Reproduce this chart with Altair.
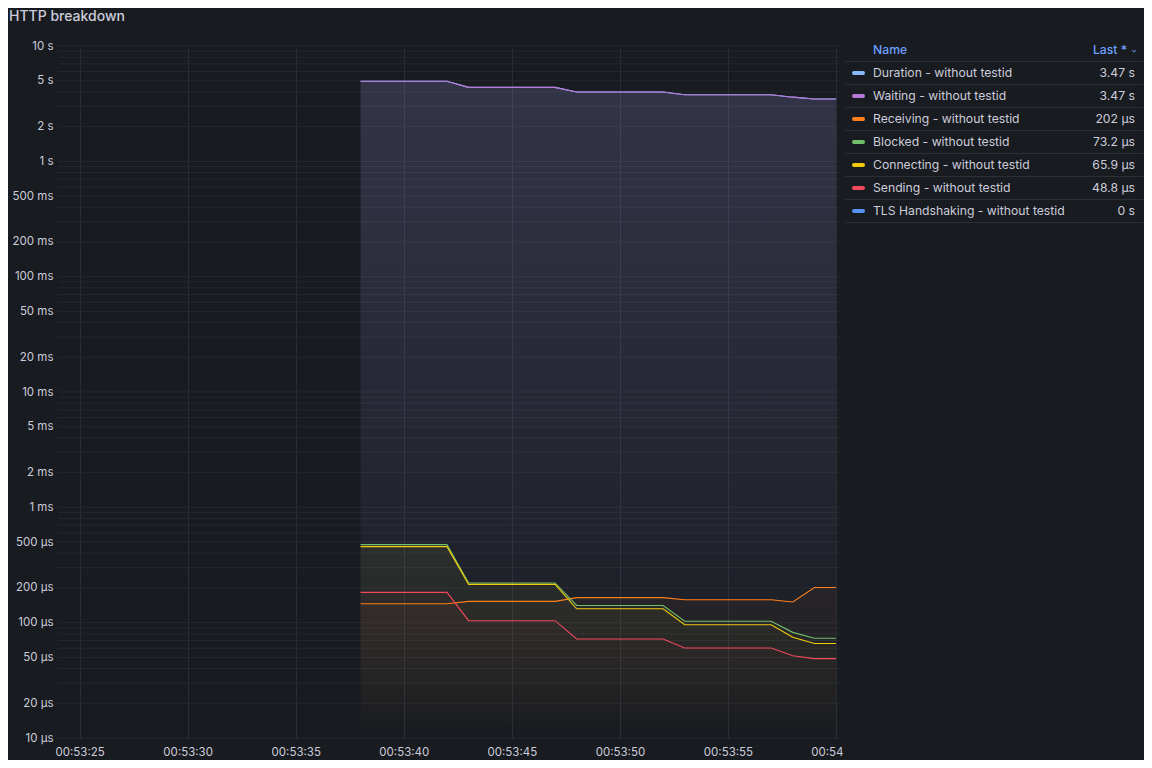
import altair as alt
import pandas as pd

# ---------------- data ----------------
title = "HTTP breakdown"
times = ["00:53:38", "00:53:42", "00:53:43", "00:53:47", "00:53:48", "00:53:52",
         "00:53:53", "00:53:57", "00:53:58", "00:53:59", "00:54:00"]
x_tick_labels = ["00:53:25", "00:53:30", "00:53:35", "00:53:40", "00:53:45",
                 "00:53:50", "00:53:55", "00:54"]

series_names = ["Duration - without testid", "Waiting - without testid",
                "Receiving - without testid", "Blocked - without testid",
                "Connecting - without testid", "Sending - without testid",
                "TLS Handshaking - without testid"]
series_colors = ["#8AB8FF", "#B877D9", "#FF7F1A", "#73BF69", "#F2CC0C", "#F2495C", "#5794F2"]

duration_s = [4.94, 4.94, 4.38, 4.38, 3.99, 3.99, 3.78, 3.78, 3.60, 3.47, 3.47]
waiting_s = [4.94, 4.94, 4.38, 4.38, 3.99, 3.99, 3.78, 3.78, 3.60, 3.47, 3.47]
receiving_us = [146, 146, 153, 153, 165, 165, 158, 158, 151, 202, 202]
blocked_us = [475, 475, 221, 221, 141, 141, 103, 103, 82.4, 73.2, 73.2]
connecting_us = [456, 456, 215, 215, 132, 132, 96, 96, 74.6, 65.9, 65.9]
sending_us = [183, 183, 104, 104, 72.2, 72.2, 60.3, 60.3, 51.7, 48.8, 48.8]
tls_s = [0, 0, 0, 0, 0, 0, 0, 0, 0, 0, 0]

y_tick_values = [10, 5, 2, 1, 0.5, 0.2, 0.1, 0.05, 0.02, 0.01, 0.005, 0.002, 0.001,
                 5e-4, 2e-4, 1e-4, 5e-5, 2e-5, 1e-5]


def to_sec(t):
    h, m, s = t.split(":")
    return int(h) * 3600 + int(m) * 60 + int(s)


# ---------------- build table ----------------
series_values_s = [
    duration_s,
    waiting_s,
    [v * 1e-6 for v in receiving_us],
    [v * 1e-6 for v in blocked_us],
    [v * 1e-6 for v in connecting_us],
    [v * 1e-6 for v in sending_us],
    tls_s,
]

rows = []
for name, vals in zip(series_names, series_values_s):
    for t, v in zip(times, vals):
        rows.append({"t": to_sec(t), "series": name, "value": v})
df = pd.DataFrame(rows)
df_plot = df[df["value"] > 0]

x_ticks = [to_sec(l if l.count(":") == 2 else l + ":00") for l in x_tick_labels]
x_label_map = {str(k): l for k, l in zip(x_ticks, x_tick_labels)}
x_label_expr = "{" + ", ".join(f"'{k}': '{v}'" for k, v in x_label_map.items()) + "}[datum.value + '']"


def fmt(v):
    if v == 0:
        return "0 s"
    if v >= 1:
        u, x = "s", v
    elif v >= 1e-3:
        u, x = "ms", v * 1e3
    else:
        u, x = "µs", v * 1e6
    return f"{x:.3g} {u}"


legend_df = pd.DataFrame({
    "name": series_names,
    "color": series_colors,
    "last": [fmt(vals[-1]) for vals in series_values_s],
    "idx": list(range(len(series_names))),
})

# ---------------- scales ----------------
W, H = 778, 692
FONT = "Inter"
TXT = "#ccccdc"

x_scale = alt.Scale(domain=[to_sec("00:53:24"), to_sec("00:54:00")], nice=False, zero=False)
y_scale = alt.Scale(type="log", domain=[1e-5, 10], nice=False)

x_enc = alt.X("t:Q", scale=x_scale,
              axis=alt.Axis(title=None, grid=True, gridColor="#2a2d33", gridWidth=1,
                            ticks=False, domain=False, labelFont=FONT, labelFontSize=11.5,
                            labelColor=TXT, labelPadding=8, values=x_ticks,
                            labelFlush=True, labelFlushOffset=7,
                            labelExpr=x_label_expr))

y_label_expr = ("datum.value >= 1 ? format(datum.value, '.0f') + ' s' : "
                "datum.value >= 0.001 ? format(datum.value * 1000, '.0f') + ' ms' : "
                "format(datum.value * 1000000, '.0f') + ' µs'")
y_enc = alt.Y("value:Q", scale=y_scale,
              axis=alt.Axis(title=None, grid=False, ticks=False, domain=False,
                            values=y_tick_values, labelExpr=y_label_expr,
                            labelFont=FONT, labelFontSize=11.5, labelColor=TXT,
                            labelPadding=5))

# minor grid lines (log)
grid_vals = [k * 10 ** e for e in range(-5, 1) for k in range(1, 10)] + [10]
grid_df = pd.DataFrame({"g": grid_vals})
hgrid = alt.Chart(grid_df).mark_rule(color="#25282d", strokeWidth=1).encode(
    y=alt.Y("g:Q", scale=y_scale, axis=None),
    x=alt.value(0), x2=alt.value(W + 4))


def rgba(hexc, a):
    h = hexc.lstrip("#")
    r, g, b = int(h[0:2], 16), int(h[2:4], 16), int(h[4:6], 16)
    return f"rgba({r},{g},{b},{a})"


area_layers = []
for name, col in zip(series_names, series_colors):
    sub = df_plot[df_plot["series"] == name]
    if len(sub) == 0:
        continue
    top_alpha = 0.105 if name.startswith(("Duration", "Waiting")) else 0.04
    grad = alt.Gradient(gradient="linear",
                        stops=[alt.GradientStop(color=rgba(col, top_alpha), offset=0),
                               alt.GradientStop(color=rgba(col, 0.0), offset=1)],
                        x1=1, x2=1, y1=0, y2=1)
    area_layers.append(
        alt.Chart(sub).mark_area(color=grad, interpolate="linear").encode(
            x=alt.X("t:Q", scale=x_scale, axis=None),
            y=alt.Y("value:Q", scale=y_scale, axis=None),
            y2=alt.datum(1e-5)))

lines = alt.Chart(df_plot).mark_line(strokeWidth=1.1, interpolate="linear").encode(
    x=x_enc, y=y_enc,
    color=alt.Color("series:N", scale=alt.Scale(domain=series_names, range=series_colors), legend=None))

# title
title_layer = alt.Chart(pd.DataFrame({"t": [title]})).mark_text(
    align="left", baseline="middle", font=FONT, fontSize=14, fontWeight=500, color=TXT
).encode(text="t:N", x=alt.value(-49), y=alt.value(-29))

# legend table
LX = 815
base_leg = alt.Chart(legend_df).transform_calculate(py="27 + datum.idx * 23", sy="38.5 + datum.idx * 23")
swatch = base_leg.mark_rule(strokeWidth=4, strokeCap="round").encode(
    x=alt.value(796), x2=alt.value(805),
    y=alt.Y("py:Q", scale=None, axis=None),
    color=alt.Color("color:N", scale=None, legend=None))
names_txt = base_leg.mark_text(align="left", baseline="middle", font=FONT, fontSize=12.2, color=TXT).encode(
    x=alt.value(LX), y=alt.Y("py:Q", scale=None, axis=None), text="name:N")
last_txt = base_leg.mark_text(align="right", baseline="middle", font=FONT, fontSize=12.2, color=TXT).encode(
    x=alt.value(1077), y=alt.Y("py:Q", scale=None, axis=None), text="last:N")
seps = base_leg.mark_rule(color="#2c2f36", strokeWidth=1).encode(
    x=alt.value(787), x2=alt.value(1085), y=alt.Y("sy:Q", scale=None, axis=None))
header_sep = alt.Chart(pd.DataFrame({"a": [0]})).mark_rule(color="#2c2f36", strokeWidth=1).encode(
    x=alt.value(787), x2=alt.value(1085), y=alt.value(15.5))
hdr_name = alt.Chart(pd.DataFrame({"h": ["Name"]})).mark_text(
    align="left", baseline="middle", font=FONT, fontSize=12.2, fontWeight=500, color="#6E9FFF").encode(
    x=alt.value(LX), y=alt.value(4), text="h:N")
hdr_last = alt.Chart(pd.DataFrame({"h": ["Last *"]})).mark_text(
    align="right", baseline="middle", font=FONT, fontSize=12.2, fontWeight=500, color="#6E9FFF").encode(
    x=alt.value(1069), y=alt.value(4), text="h:N")
chevron = alt.Chart(pd.DataFrame({"h": [0]})).mark_point(
    shape="M -1 -0.5 L 0 0.5 L 1 -0.5", filled=False, size=14, color="#6E9FFF", strokeWidth=1.2).encode(
    x=alt.value(1076), y=alt.value(5))

chart = alt.layer(
    hgrid, *area_layers, lines, title_layer,
    header_sep, seps, swatch, names_txt, last_txt, hdr_name, hdr_last, chevron
).resolve_scale(
    y="independent", x="independent", color="independent"
).properties(
    width=W, height=H,
    background="#181b1f",
    padding={"left": 50, "top": 38, "right": 308, "bottom": 22},
    autosize=alt.AutoSizeParams(type="none"),
).configure_view(stroke=None)

chart.save("out.html", embed_options={"renderer": "svg", "actions": False})
